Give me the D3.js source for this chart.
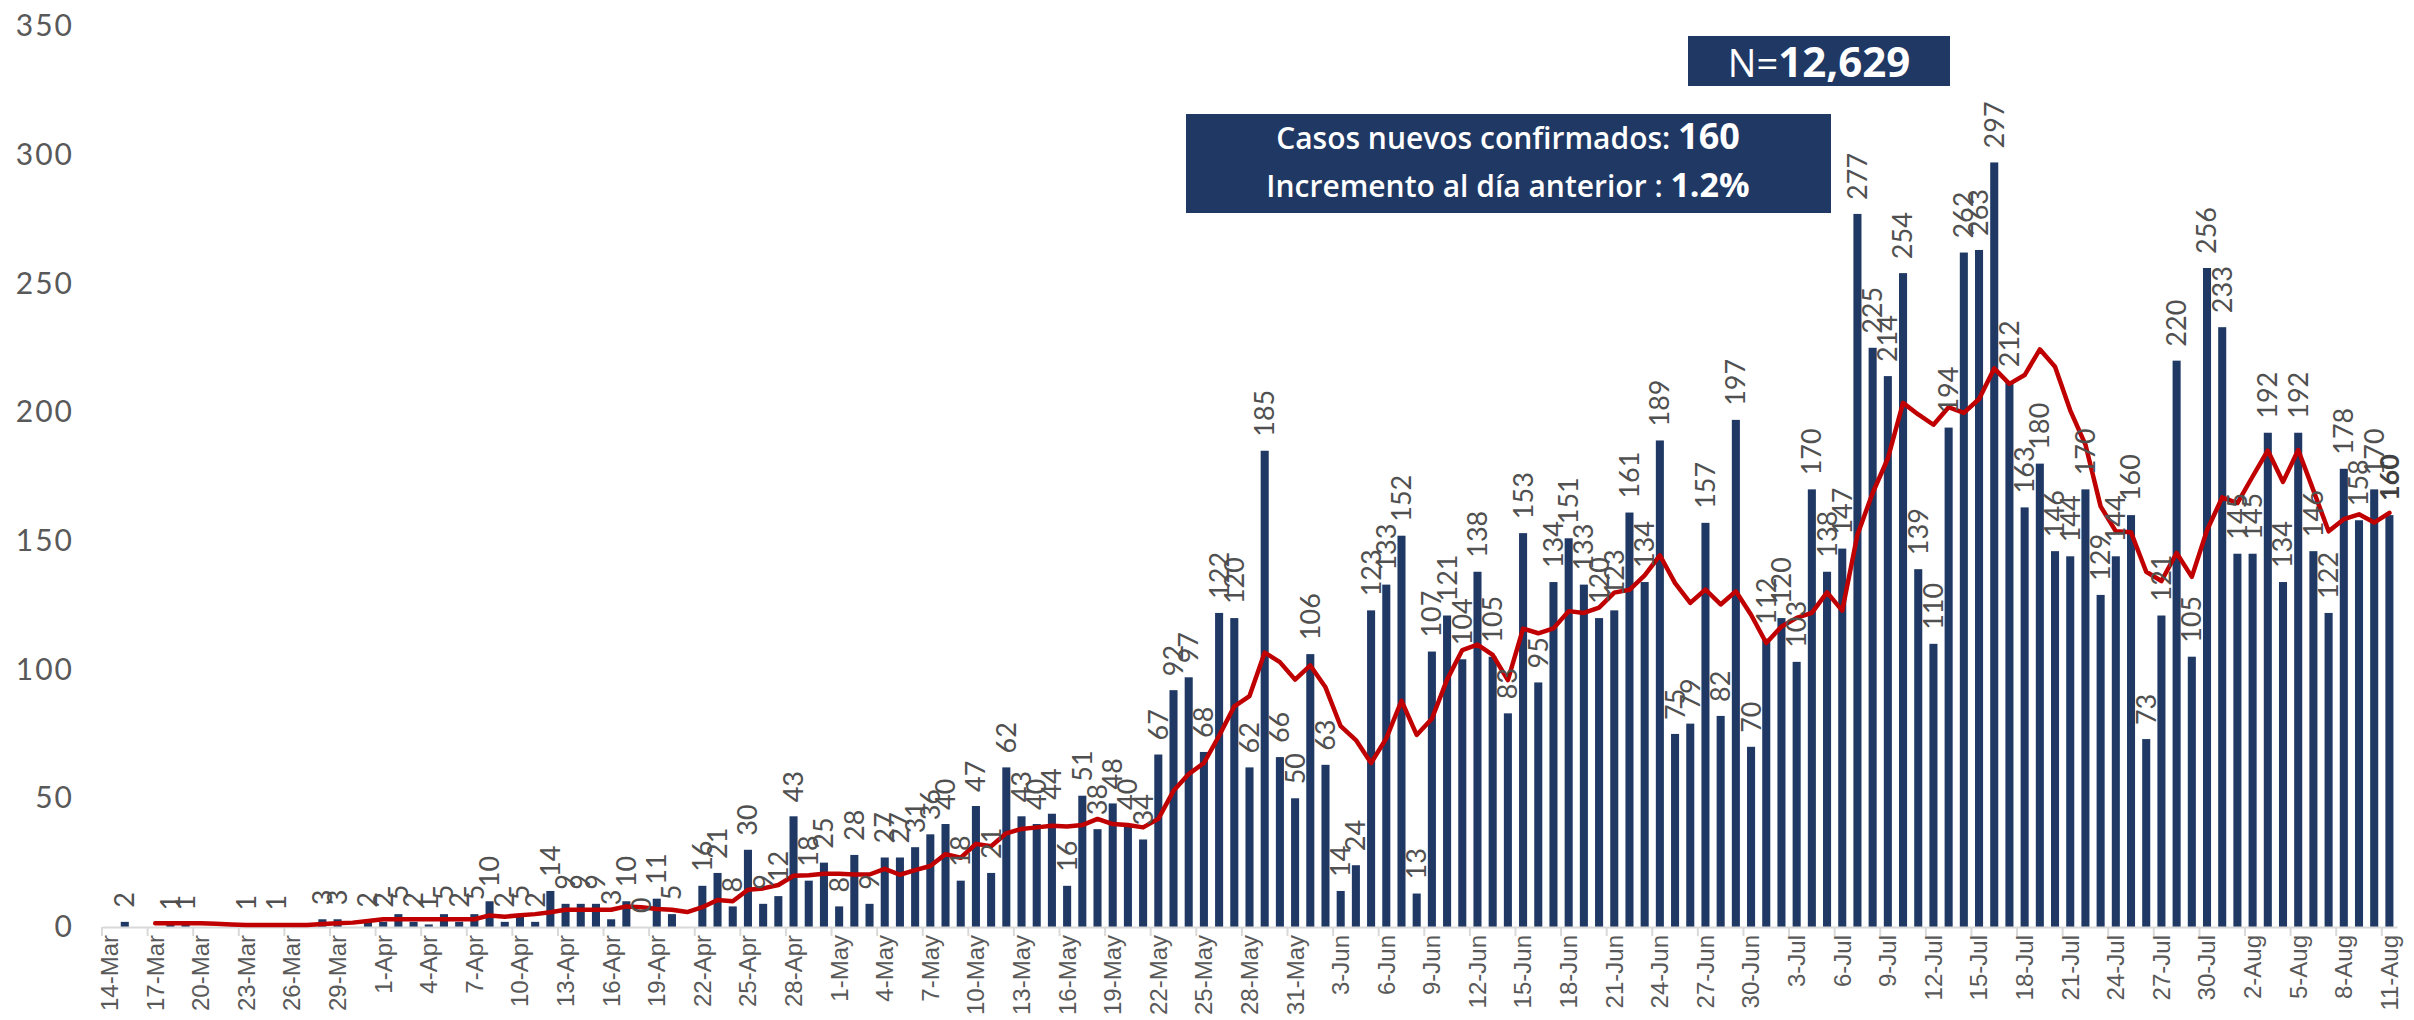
<!DOCTYPE html>
<html>
<head>
<meta charset="utf-8">
<script src="https://cdn.jsdelivr.net/npm/d3@7"></script>
<style>
  html, body { margin: 0; padding: 0; background: #ffffff; }
  svg { display: block; }
</style>
</head>
<body>
<svg id="chart" width="2414" height="1020"></svg>
<script>
// ---------------- DATA ----------------
const dates = [
  "14-Mar","15-Mar","16-Mar","17-Mar","18-Mar","19-Mar","20-Mar","21-Mar","22-Mar","23-Mar","24-Mar","25-Mar","26-Mar","27-Mar","28-Mar","29-Mar","30-Mar","31-Mar",
  "1-Apr","2-Apr","3-Apr","4-Apr","5-Apr","6-Apr","7-Apr","8-Apr","9-Apr","10-Apr","11-Apr","12-Apr","13-Apr","14-Apr","15-Apr","16-Apr","17-Apr","18-Apr","19-Apr","20-Apr","21-Apr","22-Apr","23-Apr","24-Apr","25-Apr","26-Apr","27-Apr","28-Apr","29-Apr","30-Apr",
  "1-May","2-May","3-May","4-May","5-May","6-May","7-May","8-May","9-May","10-May","11-May","12-May","13-May","14-May","15-May","16-May","17-May","18-May","19-May","20-May","21-May","22-May","23-May","24-May","25-May","26-May","27-May","28-May","29-May","30-May","31-May",
  "1-Jun","2-Jun","3-Jun","4-Jun","5-Jun","6-Jun","7-Jun","8-Jun","9-Jun","10-Jun","11-Jun","12-Jun","13-Jun","14-Jun","15-Jun","16-Jun","17-Jun","18-Jun","19-Jun","20-Jun","21-Jun","22-Jun","23-Jun","24-Jun","25-Jun","26-Jun","27-Jun","28-Jun","29-Jun","30-Jun",
  "1-Jul","2-Jul","3-Jul","4-Jul","5-Jul","6-Jul","7-Jul","8-Jul","9-Jul","10-Jul","11-Jul","12-Jul","13-Jul","14-Jul","15-Jul","16-Jul","17-Jul","18-Jul","19-Jul","20-Jul","21-Jul","22-Jul","23-Jul","24-Jul","25-Jul","26-Jul","27-Jul","28-Jul","29-Jul","30-Jul","31-Jul",
  "1-Aug","2-Aug","3-Aug","4-Aug","5-Aug","6-Aug","7-Aug","8-Aug","9-Aug","10-Aug","11-Aug"
];

// daily new confirmed cases (null = no bar / no label)
const newCases = [
  null,2,null,null,1,1,null,null,null,1,null,1,null,null,3,3,null,2,
  2,5,2,1,5,2,5,10,2,5,2,14,9,9,9,3,10,0,11,5,null,16,21,8,30,9,12,43,18,25,
  8,28,9,27,27,31,36,40,18,47,21,62,43,40,44,16,51,38,48,40,34,67,92,97,68,122,120,62,185,66,50,
  106,63,14,24,123,133,152,13,107,121,104,138,105,83,153,95,134,151,133,120,123,161,134,189,75,79,157,82,197,70,
  112,120,103,170,138,147,277,225,214,254,139,110,194,262,263,297,212,163,180,146,144,170,129,144,160,73,121,220,105,256,233,
  145,145,192,134,192,146,122,178,158,170,160
];

// 7-day trend line
const trend = [
  null,null,null,1.5,1.5,1.5,1.5,1.3,1.0,0.8,0.8,0.8,0.8,0.8,1.2,1.5,1.7,2.3,
  3.0,3.0,3.0,3.0,3.0,3.0,3.0,4.5,4.0,4.6,5.0,5.7,6.7,6.7,6.7,6.7,8.0,7.7,7.0,6.7,5.8,7.7,10.5,10.0,14.5,15.0,16.3,19.9,20.1,20.7,
  20.7,20.4,20.4,22.6,20.3,22.1,23.7,28.3,26.9,32.3,31.4,36.4,38.1,38.7,39.3,39.0,39.6,42.0,40.0,39.6,38.7,42.0,52.9,59.4,63.7,74.3,85.7,89.7,106.6,102.9,96.1,
  101.6,93.1,78.0,72.6,63.7,73.3,87.9,74.6,80.9,96.1,107.6,109.7,105.7,95.9,115.9,114.1,116.0,122.7,122.0,124.1,129.9,131.0,136.6,144.4,133.6,125.9,131.1,125.3,130.4,121.3,
  110.3,116.7,120.1,122.0,130.0,122.9,152.4,168.6,182.0,203.6,199.1,195.1,201.9,199.7,205.1,217.0,211.0,214.4,224.4,217.6,200.7,187.4,163.4,153.7,153.3,138.0,134.4,145.3,136.0,154.1,166.9,
  164.7,175.0,185.1,172.9,185.3,169.6,153.7,158.4,160.3,157.1,160.9
];

const tickLabels = [
  "14-Mar","17-Mar","20-Mar","23-Mar","26-Mar","29-Mar","1-Apr","4-Apr","7-Apr","10-Apr","13-Apr","16-Apr","19-Apr","22-Apr","25-Apr","28-Apr",
  "1-May","4-May","7-May","10-May","13-May","16-May","19-May","22-May","25-May","28-May","31-May","3-Jun","6-Jun","9-Jun","12-Jun","15-Jun","18-Jun",
  "21-Jun","24-Jun","27-Jun","30-Jun","3-Jul","6-Jul","9-Jul","12-Jul","15-Jul","18-Jul","21-Jul","24-Jul","27-Jul","30-Jul","2-Aug","5-Aug","8-Aug","11-Aug"
];
const yTicks = [0, 50, 100, 150, 200, 250, 300, 350];

const totalLabel = "12,629";
const lastCases = "160";
const lastIncrease = "1.2%";

// ---------------- CHART ----------------
const svg = d3.select("#chart");
const NAVY = "#1F3864";
const RED = "#C00000";
const GREY = "#595959";

const x = d3.scaleBand()
  .domain(dates)
  .range([102, 2397])
  .paddingInner(0.47)
  .paddingOuter(0.235);
const step = x.step();
const cx = d => x(d) + x.bandwidth() / 2;

const y = d3.scaleLinear().domain([0, 350]).range([927, 26]);

// Y axis labels (no line, no grid)
const yAxis = svg.append("g")
  .attr("transform", "translate(74,0)")
  .call(d3.axisLeft(y).tickValues(yTicks).tickSize(0).tickPadding(0));
yAxis.select(".domain").remove();
yAxis.selectAll("text")
  .attr("fill", GREY)
  .style("font-family", "'Lato', 'Open Sans', sans-serif")
  .style("font-weight", "400")
  .style("font-size", "30px")
  .style("letter-spacing", "2px");

// Bars
const rows = dates.map((d, i) => ({ date: d, value: newCases[i], avg: trend[i], i }));
svg.append("g").selectAll("rect")
  .data(rows.filter(r => r.value !== null))
  .join("rect")
  .attr("x", r => x(r.date))
  .attr("width", x.bandwidth())
  .attr("y", r => y(r.value))
  .attr("height", r => y(0) - y(r.value))
  .attr("fill", NAVY);

// X axis
const xAxis = svg.append("g")
  .attr("transform", `translate(0,${y(0)})`)
  .call(d3.axisBottom(x).tickValues(tickLabels).tickSize(9).tickSizeOuter(0));
xAxis.select(".domain").attr("stroke", "#D9D9D9").attr("stroke-width", 2);
xAxis.selectAll(".tick line")
  .attr("stroke", "#D9D9D9").attr("stroke-width", 2)
  .attr("x1", -step / 2).attr("x2", -step / 2);
xAxis.selectAll(".tick text")
  .attr("fill", GREY)
  .attr("transform", "rotate(-90)")
  .attr("text-anchor", "end")
  .attr("x", -8)
  .attr("y", 0)
  .attr("dy", "0.35em")
  .style("font-family", "'Liberation Sans Narrow', 'Arial Narrow', sans-serif")
  .style("font-size", "24px");

// Trend line
const line = d3.line()
  .defined(r => r.avg !== null)
  .x(r => cx(r.date))
  .y(r => y(r.avg))
  .curve(d3.curveLinear);
svg.append("path")
  .datum(rows)
  .attr("d", line)
  .attr("fill", "none")
  .attr("stroke", RED)
  .attr("stroke-width", 4.5)
  .attr("stroke-linejoin", "round")
  .attr("stroke-linecap", "round");

// Data labels (rotated)
const lastIndex = dates.length - 1;
svg.append("g").selectAll("text")
  .data(rows.filter(r => r.value !== null))
  .join("text")
  .attr("transform", r => `translate(${cx(r.date)},${y(r.value) - 14}) rotate(-90)`)
  .attr("text-anchor", "start")
  .attr("dy", "0.35em")
  .attr("fill", r => r.i === lastIndex ? "#404040" : "#505050")
  .style("font-family", "'Lato', 'Open Sans', sans-serif")
  .style("font-weight", r => r.i === lastIndex ? "700" : "400")
  .style("font-size", "27px")
  .text(r => r.value);

// Box: N=
const nBox = svg.append("g");
nBox.append("rect")
  .attr("x", 1688).attr("y", 36).attr("width", 262).attr("height", 50)
  .attr("fill", NAVY);
const nText = nBox.append("text")
  .attr("x", 1819).attr("y", 77)
  .attr("text-anchor", "middle")
  .attr("fill", "#ffffff")
  .style("font-family", "'Open Sans', 'Lato', sans-serif");
nText.append("tspan").style("font-weight", "400").style("font-size", "38px").text("N=");
nText.append("tspan").style("font-weight", "700").style("font-size", "42px").text(totalLabel);

// Box: daily summary
const sBox = svg.append("g");
sBox.append("rect")
  .attr("x", 1186).attr("y", 114).attr("width", 645).attr("height", 99)
  .attr("fill", NAVY);
const l1 = sBox.append("text")
  .attr("x", 1508).attr("y", 149)
  .attr("text-anchor", "middle")
  .attr("fill", "#ffffff")
  .style("font-family", "'Open Sans', 'Lato', sans-serif");
l1.append("tspan").style("font-weight", "600").style("font-size", "30px").text("Casos nuevos confirmados:  ");
l1.append("tspan").style("font-weight", "700").style("font-size", "36px").text(lastCases);
const l2 = sBox.append("text")
  .attr("x", 1508).attr("y", 197)
  .attr("text-anchor", "middle")
  .attr("fill", "#ffffff")
  .style("font-family", "'Open Sans', 'Lato', sans-serif");
l2.append("tspan").style("font-weight", "600").style("font-size", "30px").text("Incremento al día anterior : ");
l2.append("tspan").style("font-weight", "700").style("font-size", "34px").text(lastIncrease);
</script>
</body>
</html>
